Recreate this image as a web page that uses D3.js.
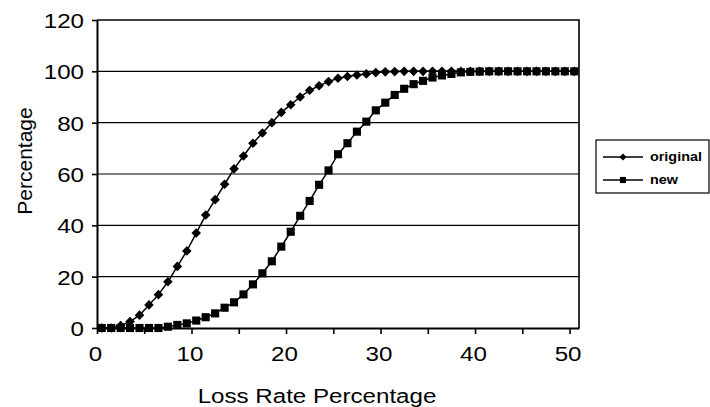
<!DOCTYPE html>
<html>
<head>
<meta charset="utf-8">
<script src="https://cdn.jsdelivr.net/npm/d3@7"></script>
<style>
  html, body { margin: 0; padding: 0; background: #fff; }
  svg { display: block; }
</style>
</head>
<body>
<svg id="chart" width="710" height="407"></svg>
<script>
'use strict';

// loss rate categories (x axis)
var lossRates = [0, 1, 2, 3, 4, 5, 6, 7, 8, 9, 10, 11, 12, 13, 14, 15, 16, 17, 18, 19, 20,
  21, 22, 23, 24, 25, 26, 27, 28, 29, 30, 31, 32, 33, 34, 35, 36, 37, 38, 39, 40,
  41, 42, 43, 44, 45, 46, 47, 48, 49, 50];

var originalValues = [0, 0, 1, 2.5, 5, 9, 13, 18, 24, 30, 37, 44, 50, 56, 62, 67, 72, 76, 80, 84, 87,
  90, 92.6, 94.4, 96, 97.3, 98, 98.6, 99, 99.5, 99.8, 99.9, 100, 100, 100, 100, 100, 100, 100, 100, 100,
  100, 100, 100, 100, 100, 100, 100, 100, 100, 100];

var newValues = [0, 0, 0, 0, 0, 0, 0, 0.5, 1.2, 1.8, 2.9, 4.2, 5.7, 7.9, 10, 13.1, 17, 21.3, 26, 31.7, 37.5,
  43.7, 49.5, 55.8, 61.4, 67.7, 72, 76.5, 80.4, 84.8, 87.8, 90.8, 93.2, 95, 96.3, 97.6, 98.4, 99, 99.6, 99.8, 99.9,
  100, 100, 100, 100, 100, 100, 100, 100, 100, 100];

var seriesNames = ['original', 'new'];
var yTicks = [0, 20, 40, 60, 80, 100, 120];
var xTicks = [0, 5, 10, 15, 20, 25, 30, 35, 40, 45, 50];

var PLOT_LEFT = 97;
var PLOT_RIGHT = 579;
var PLOT_TOP = 20;
var PLOT_BOTTOM = 328;
var FONT = '"Liberation Sans", Arial, Helvetica, sans-serif';
var FONT_SIZE = 21;
var STRETCH = 1.15;   // the scan is wider than tall

var svg = d3.select('#chart');

var x = d3.scaleLinear().domain([0, lossRates.length]).range([PLOT_LEFT, PLOT_RIGHT]);
var xBand = d3.scaleBand().domain(lossRates).range([PLOT_LEFT, PLOT_RIGHT]).padding(0);
var y = d3.scaleLinear().domain([0, 120]).range([PLOT_BOTTOM, PLOT_TOP]);

// square turned 45 degrees, as the spreadsheet draws it
var squareDiamond = {
  draw: function (context, size) {
    var r = Math.sqrt(size) / 2 * Math.SQRT2;
    context.moveTo(0, -r);
    context.lineTo(r, 0);
    context.lineTo(0, r);
    context.lineTo(-r, 0);
    context.closePath();
  }
};

// gridlines
svg.append('g').selectAll('line')
  .data(yTicks.filter(function (d) { return d > 0 && d < 120; }))
  .enter().append('line')
  .attr('x1', PLOT_LEFT).attr('x2', PLOT_RIGHT)
  .attr('y1', function (d) { return y(d); })
  .attr('y2', function (d) { return y(d); })
  .style('stroke', '#000')
  .style('stroke-width', 1.2);

// plot frame top + right
svg.append('path')
  .attr('d', 'M' + PLOT_LEFT + ',' + y(120) + 'H' + PLOT_RIGHT + 'V' + y(0))
  .style('fill', 'none')
  .style('stroke', '#000')
  .style('stroke-width', 1.6);

// axes
var yAxis = svg.append('g')
  .attr('transform', 'translate(' + PLOT_LEFT + ',0)')
  .call(d3.axisLeft(y).tickValues(yTicks).tickSize(5).tickSizeOuter(0));

var xAxis = svg.append('g')
  .attr('transform', 'translate(0,' + PLOT_BOTTOM + ')')
  .call(d3.axisBottom(x).tickValues(xTicks).tickSize(6).tickSizeOuter(0)
    .tickFormat(function (d) { return d % 10 === 0 ? d : ''; }));

[yAxis, xAxis].forEach(function (ax) {
  ax.select('.domain').style('stroke', '#000').style('stroke-width', 2);
  ax.selectAll('.tick line').style('stroke', '#000').style('stroke-width', 1.6);
  ax.selectAll('.tick text')
    .style('font-family', FONT)
    .style('font-size', FONT_SIZE + 'px')
    .style('fill', '#000');
});

yAxis.selectAll('.tick text')
  .attr('x', 0)
  .attr('dy', '0.36em')
  .attr('text-anchor', 'end')
  .attr('transform', 'translate(-13,0) scale(' + STRETCH + ',1)');

xAxis.selectAll('.tick text')
  .attr('y', 0)
  .attr('dy', '0.71em')
  .attr('transform', 'translate(-2,18) scale(' + STRETCH + ',1)');

// axis titles
svg.append('text')
  .attr('transform', 'translate(317,403) scale(' + STRETCH + ',1)')
  .attr('text-anchor', 'middle')
  .style('font-family', FONT)
  .style('font-size', FONT_SIZE + 'px')
  .text('Loss Rate Percentage');

svg.append('text')
  .attr('transform', 'translate(32,161) rotate(-90)')
  .attr('text-anchor', 'middle')
  .style('font-family', FONT)
  .style('font-size', '21px')
  .text('Percentage');

// series
var series = [
  { name: seriesNames[0], values: originalValues, marker: squareDiamond, size: 46, legendSize: 24 },
  { name: seriesNames[1], values: newValues, marker: d3.symbolSquare, size: 66, legendSize: 38 }
];

var line = d3.line()
  .x(function (d, i) { return xBand(lossRates[i]) + xBand.bandwidth() / 2; })
  .y(function (d) { return y(d); });

series.forEach(function (s) {
  svg.append('path')
    .attr('d', line(s.values))
    .style('fill', 'none')
    .style('stroke', '#000')
    .style('stroke-width', 1.5);

  svg.append('g').selectAll('path')
    .data(s.values)
    .enter().append('path')
    .attr('transform', function (d, i) {
      return 'translate(' + (xBand(lossRates[i]) + xBand.bandwidth() / 2) + ',' + y(d) + ')';
    })
    .attr('d', d3.symbol().type(s.marker).size(s.size))
    .style('fill', '#000');
});

// legend
var legend = svg.append('g').attr('transform', 'translate(596,140)');
legend.append('rect')
  .attr('width', 113).attr('height', 53)
  .style('fill', '#fff')
  .style('stroke', '#000')
  .style('stroke-width', 1.2);

series.forEach(function (s, i) {
  var row = legend.append('g').attr('transform', 'translate(0,' + (17 + i * 23) + ')');
  row.append('line')
    .attr('x1', 7).attr('x2', 47)
    .style('stroke', '#000')
    .style('stroke-width', 1.4);
  row.append('path')
    .attr('transform', 'translate(27,0)')
    .attr('d', d3.symbol().type(s.marker).size(s.legendSize))
    .style('fill', '#000');
  row.append('text')
    .attr('transform', 'translate(54,4) scale(' + STRETCH + ',1)')
    .style('font-family', FONT)
    .style('font-size', '12.5px')
    .style('font-weight', 'bold')
    .text(s.name);
});
</script>
</body>
</html>
